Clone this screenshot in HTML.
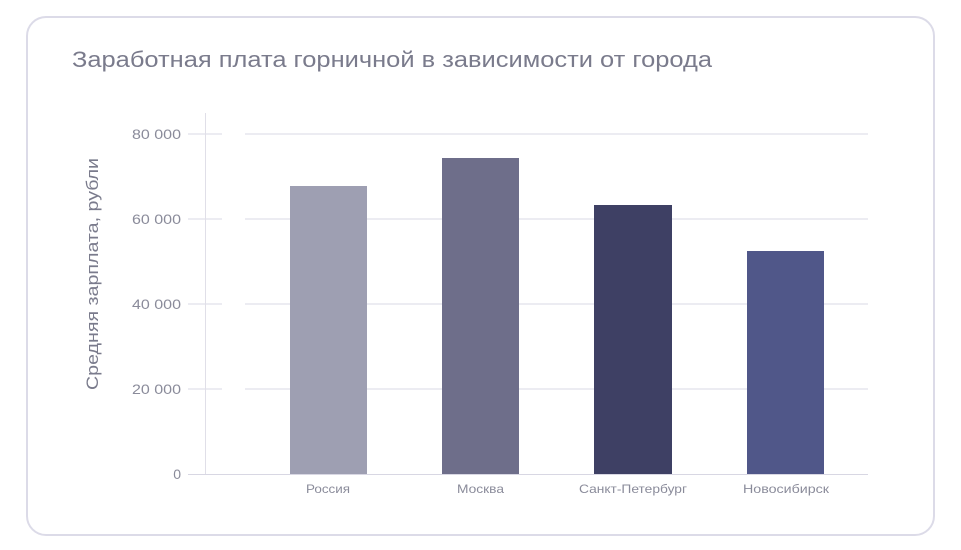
<!DOCTYPE html>
<html><head><meta charset="utf-8"><style>
html,body{margin:0;padding:0;background:#fff;}
body{width:961px;height:550px;overflow:hidden;position:relative;font-family:"Liberation Sans",sans-serif;}
.card{position:absolute;left:26px;top:16px;width:909px;height:520px;border:2px solid #dcdbe8;border-radius:20px;box-sizing:border-box;}
</style></head><body>
<div class="card"></div>
<svg width="961" height="550" style="position:absolute;left:0;top:0" font-family="Liberation Sans, sans-serif">
<text x="72" y="67" font-size="22" fill="#7a7b8c" textLength="640" lengthAdjust="spacingAndGlyphs">Заработная плата горничной в зависимости от города</text>
<g stroke="#e6e5ee" stroke-width="1.5">
<line x1="188" y1="134" x2="222" y2="134"/><line x1="245" y1="134" x2="868" y2="134"/>
<line x1="188" y1="219" x2="222" y2="219"/><line x1="245" y1="219" x2="868" y2="219"/>
<line x1="188" y1="304" x2="222" y2="304"/><line x1="245" y1="304" x2="868" y2="304"/>
<line x1="188" y1="389" x2="222" y2="389"/><line x1="245" y1="389" x2="868" y2="389"/>
</g>
<line x1="205.5" y1="113" x2="205.5" y2="474" stroke="#e0dfe8" stroke-width="1"/>
<rect x="290" y="186" width="77" height="288" fill="#9e9fb2"/>
<rect x="442" y="158" width="77" height="316" fill="#6e6e8a"/>
<rect x="594" y="205" width="78" height="269" fill="#3e4064"/>
<rect x="747" y="251" width="77" height="223" fill="#505789"/>
<line x1="188" y1="474.5" x2="868" y2="474.5" stroke="#d8d7e3" stroke-width="1"/>
<g font-size="14" fill="#8a8b9a">
<text x="132" y="139" textLength="49" lengthAdjust="spacingAndGlyphs">80 000</text>
<text x="132" y="224" textLength="49" lengthAdjust="spacingAndGlyphs">60 000</text>
<text x="132" y="309" textLength="49" lengthAdjust="spacingAndGlyphs">40 000</text>
<text x="132" y="394" textLength="49" lengthAdjust="spacingAndGlyphs">20 000</text>
<text x="181" y="479" text-anchor="end">0</text></g>
<g font-size="12" fill="#8a8b9a">
<text x="306" y="493" textLength="44" lengthAdjust="spacingAndGlyphs">Россия</text>
<text x="457" y="493" textLength="47" lengthAdjust="spacingAndGlyphs">Москва</text>
<text x="579" y="493" textLength="108" lengthAdjust="spacingAndGlyphs">Санкт-Петербург</text>
<text x="743" y="493" textLength="86" lengthAdjust="spacingAndGlyphs">Новосибирск</text></g>
<text transform="translate(98,390) rotate(-90)" font-size="17" fill="#7a7b8c" textLength="232" lengthAdjust="spacingAndGlyphs">Средняя зарплата, рубли</text>
</svg>
</body></html>
